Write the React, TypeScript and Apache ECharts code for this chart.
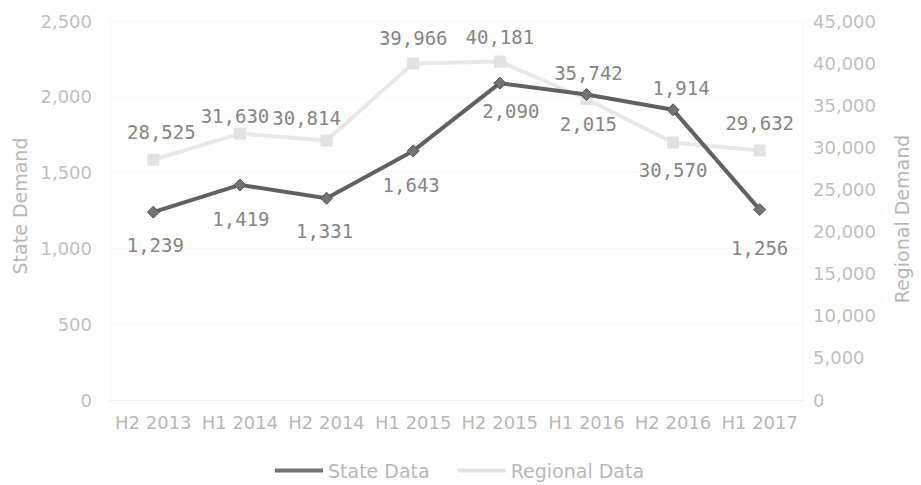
import React, { useEffect, useRef } from "react";
import * as echarts from "echarts";

const categories = ["H2 2013", "H1 2014", "H2 2014", "H1 2015", "H2 2015", "H1 2016", "H2 2016", "H1 2017"];
const stateData = [1239, 1419, 1331, 1643, 2090, 2015, 1914, 1256];
const regionalData = [28525, 31630, 30814, 39966, 40181, 35742, 30570, 29632];
const leftTicks = { min: 0, max: 2500, interval: 500 };
const rightTicks = { min: 0, max: 45000, interval: 5000 };

// label offsets (style only), relative to each point
const stateLabelOffsets = [[2, 33], [1, 34], [-2, 33], [-2, 34], [11, 28], [2, 29], [8, -22], [0, 38]];
const regionalLabelOffsets = [[8, -28], [-5, -18], [-20, -22], [0, -25], [0, -25], [2, -26], [0, 27], [0, -27]];

const fmt = (v: number) => v.toLocaleString("en-US");

export default function App() {
  const ref = useRef<HTMLDivElement>(null);
  useEffect(() => {
    if (!ref.current) return;
    document.body.style.margin = "0";
    const chart = echarts.init(ref.current, undefined, { renderer: "svg" });
    const labelFont = { fontFamily: "DejaVu Sans Mono", fontSize: 19, color: "#858585" };
    chart.setOption({
      animation: false,
      backgroundColor: "#ffffff",
      grid: { left: 110, right: 118, top: 21, bottom: 85, containLabel: false },
      legend: {
        data: ["State Data", "Regional Data"],
        left: 270,
        top: 456,
        icon: "rect",
        itemWidth: 48,
        itemHeight: 4,
        itemGap: 28,
        itemStyle: { borderWidth: 0 },
        textStyle: { fontFamily: "DejaVu Sans", fontSize: 19, color: "#b8b8b8" },
      },
      xAxis: {
        type: "category",
        data: categories,
        boundaryGap: true,
        axisLine: { show: true, lineStyle: { color: "#f0f0f0" } },
        axisTick: { show: false },
        axisLabel: {
          interval: 0,
          hideOverlap: false,
          margin: 13,
          fontFamily: "DejaVu Sans",
          fontSize: 18,
          color: "#b8b8b8",
        },
      },
      yAxis: [
        {
          type: "value",
          min: leftTicks.min,
          max: leftTicks.max,
          interval: leftTicks.interval,
          axisLine: { show: true, lineStyle: { color: "#f6f6f6" } },
          axisTick: { show: false },
          splitLine: { show: true, lineStyle: { color: "#f8f8f8" } },
          axisLabel: {
            margin: 18,
            fontFamily: "DejaVu Sans",
            fontSize: 18,
            color: "#c0c0c0",
            formatter: (v: number) => fmt(v),
          },
        },
        {
          type: "value",
          position: "right",
          min: rightTicks.min,
          max: rightTicks.max,
          interval: rightTicks.interval,
          axisLine: { show: true, lineStyle: { color: "#f6f6f6" } },
          axisTick: { show: false },
          splitLine: { show: false },
          axisLabel: {
            margin: 10,
            fontFamily: "DejaVu Sans",
            fontSize: 18,
            color: "#c0c0c0",
            formatter: (v: number) => fmt(v),
          },
        },
      ],
      graphic: [
        {
          type: "text",
          x: 20,
          y: 206,
          rotation: Math.PI / 2,
          style: {
            text: "State Demand",
            fontFamily: "DejaVu Sans",
            fontSize: 19,
            fill: "#b8b8b8",
            textAlign: "center",
            textVerticalAlign: "middle",
          },
        },
        {
          type: "text",
          x: 902,
          y: 219,
          rotation: Math.PI / 2,
          style: {
            text: "Regional Demand",
            fontFamily: "DejaVu Sans",
            fontSize: 19,
            fill: "#b8b8b8",
            textAlign: "center",
            textVerticalAlign: "middle",
          },
        },
      ],
      series: [
        {
          name: "State Data",
          type: "line",
          yAxisIndex: 0,
          z: 5,
          data: stateData.map((v, i) => ({
            value: v,
            label: { offset: stateLabelOffsets[i] },
          })),
          symbol: "diamond",
          symbolSize: 12,
          lineStyle: { color: "#616161", width: 4 },
          itemStyle: { color: "#747474", borderColor: "#555555", borderWidth: 1 },
          label: {
            show: true,
            position: "inside",
            formatter: (p: any) => fmt(p.value),
            ...labelFont,
          },
        },
        {
          name: "Regional Data",
          type: "line",
          yAxisIndex: 1,
          z: 2,
          data: regionalData.map((v, i) => ({
            value: v,
            label: { offset: regionalLabelOffsets[i] },
          })),
          symbol: "rect",
          symbolSize: 12,
          lineStyle: { color: "#e8e8e8", width: 4 },
          itemStyle: { color: "#e2e2e2" },
          label: {
            show: true,
            position: "inside",
            formatter: (p: any) => fmt(p.value),
            ...labelFont,
          },
        },
      ],
    });
    return () => chart.dispose();
  }, []);
  return <div ref={ref} style={{ width: 921, height: 485 }} />;
}
